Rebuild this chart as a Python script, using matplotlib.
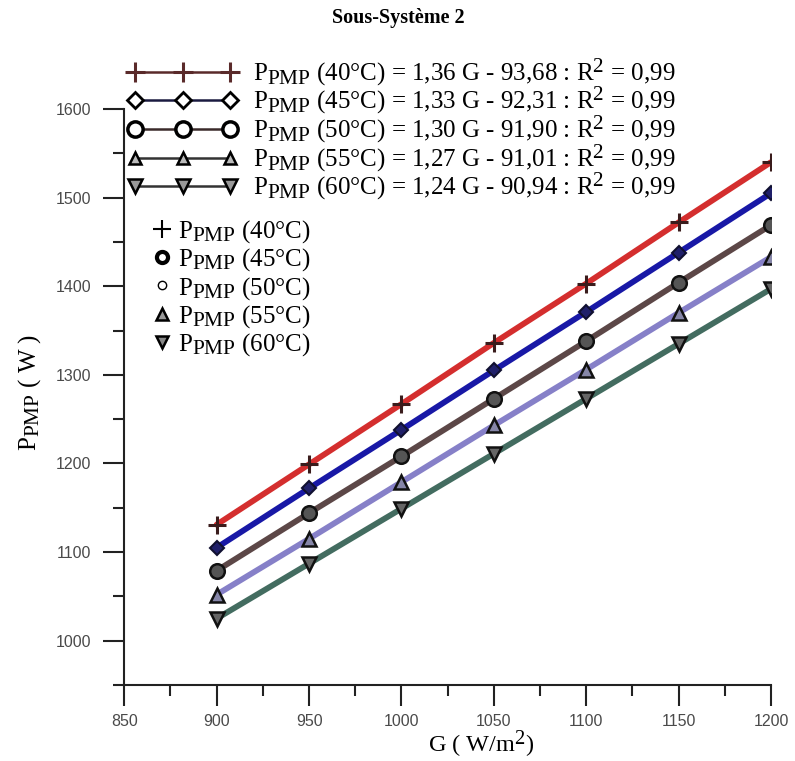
import matplotlib
matplotlib.use("Agg")
import matplotlib.pyplot as plt
from matplotlib.lines import Line2D
import matplotlib._mathtext as _mt

# larger sub/superscripts, as in the reference
_mt.SHRINK_FACTOR = 0.85

plt.rcParams['font.family'] = ['Liberation Serif', 'DejaVu Serif']
plt.rcParams['mathtext.fontset'] = 'custom'
plt.rcParams['mathtext.rm'] = 'Liberation Serif'
plt.rcParams['mathtext.it'] = 'Liberation Serif:italic'
plt.rcParams['mathtext.bf'] = 'Liberation Serif:bold'

# ---- data ----
G = [900, 950, 1000, 1050, 1100, 1150, 1200]
P40 = [1131, 1199, 1267, 1336, 1403, 1472, 1540]
P45 = [1105, 1172, 1238, 1305, 1371, 1438, 1505]
P50 = [1079, 1144, 1208, 1273, 1338, 1404, 1469]
P55 = [1052, 1115, 1179, 1243, 1306, 1370, 1433]
P60 = [1025, 1087, 1149, 1211, 1273, 1335, 1397]
temps = ['40', '45', '50', '55', '60']
fit_labels = [
    '1,36 G - 93,68', '1,33 G - 92,31', '1,30 G - 91,90',
    '1,27 G - 91,01', '1,24 G - 90,94']
r2 = ['0,99', '0,99', '0,99', '0,99', '0,99']
xticks = [850, 900, 950, 1000, 1050, 1100, 1150, 1200]
yticks = [1000, 1100, 1200, 1300, 1400, 1500, 1600]

series = [P40, P45, P50, P55, P60]
line_colors = ['#d42e2e', '#1818a6', '#5c4747', '#8680c8', '#436c60']
mk_style = [
    dict(marker='+', ms=13, mew=2.2, color='#3a1c1c'),
    dict(marker='D', ms=7, mfc='#20206a', mec='#101030', mew=1.5),
    dict(marker='o', ms=10.5, mfc='#555555', mec='#111111', mew=1.8),
    dict(marker='^', ms=10, mfc='#8686a8', mec='#111111', mew=1.8),
    dict(marker='v', ms=10, mfc='#666666', mec='#111111', mew=1.8),
]

W, H = 795, 761
fig = plt.figure(figsize=(W / 100, H / 100), dpi=100)
ax = fig.add_axes([124.3 / W, (H - 685) / H, (771 - 124.3) / W, (685 - 109) / H])

for s, c, m in zip(series, line_colors, mk_style):
    ax.plot(G, s, color=c, lw=4.2, solid_capstyle='round', zorder=2)
    ax.plot(G, s, linestyle='none', zorder=3, **m)

ax.set_xlim(850, 1200)
ax.set_ylim(950, 1600)
ax.set_xticks(xticks)
ax.set_yticks(yticks)
ax.set_xticks([875, 925, 975, 1025, 1075, 1125, 1175], minor=True)
ax.set_yticks([950, 1050, 1150, 1250, 1350, 1450, 1550], minor=True)
for sp in ['top', 'right']:
    ax.spines[sp].set_visible(False)
for sp in ['left', 'bottom']:
    ax.spines[sp].set_linewidth(1.5)
    ax.spines[sp].set_color('#222222')
ax.tick_params(which='major', direction='out', length=15, width=1.5, color='#222222',
               labelsize=11.5, labelcolor='#4a4a4a')
ax.tick_params(axis='x', which='major', pad=6)
ax.tick_params(axis='y', which='major', pad=9)
ax.tick_params(which='minor', direction='out', length=8, width=1.5, color='#222222')
for lab in ax.get_xticklabels() + ax.get_yticklabels():
    lab.set_family(['Liberation Sans', 'DejaVu Sans'])

FS = 18
# legend 1 (fits)
h1_style = [
    dict(color='#5a2a2a', marker='+', ms=14, mew=2.2),
    dict(color='#1a1a40', marker='D', ms=8, mfc='white', mec='black', mew=2),
    dict(color='#3a2a2a', marker='o', ms=11, mfc='white', mec='black', mew=2.5),
    dict(color='#333333', marker='^', ms=9, mfc='#bbbbbb', mec='black', mew=1.8),
    dict(color='#333333', marker='v', ms=10, mfc='#999999', mec='black', mew=1.8),
]
h1 = [Line2D([], [], lw=1.8, **st) for st in h1_style]
l1 = [r'$\mathrm{P_{PMP}}$ (' + t + '°C) = ' + f + ' : R$^2$ = ' + r
      for t, f, r in zip(temps, fit_labels, r2)]
leg1 = ax.legend(h1, l1, loc='upper left', bbox_to_anchor=(127.5 / W, 1 - 56 / H),
                 bbox_transform=fig.transFigure, frameon=False, fontsize=FS,
                 numpoints=3, handlelength=4.4, handletextpad=0.62, borderpad=0,
                 borderaxespad=0, labelspacing=-0.12)
ax.add_artist(leg1)

# legend 2 (data points)
h2_style = [
    dict(marker='+', ms=13, mew=1.5, color='black'),
    dict(marker='o', ms=8, mfc='white', mec='black', mew=3),
    dict(marker='o', ms=6, mfc='white', mec='black', mew=1),
    dict(marker='^', ms=9, mfc='#999999', mec='black', mew=1.8),
    dict(marker='v', ms=9, mfc='#888888', mec='black', mew=1.8),
]
h2 = [Line2D([], [], linestyle='none', **st) for st in h2_style]
l2 = [r'$\mathrm{P_{PMP}}$ (' + t + '°C)' for t in temps]
leg2 = ax.legend(h2, l2, loc='upper left', bbox_to_anchor=(154.5 / W, 1 - 218 / H),
                 bbox_transform=fig.transFigure, frameon=False, fontsize=FS,
                 numpoints=1, handlelength=0.6, handletextpad=0.34, borderpad=0,
                 borderaxespad=0, labelspacing=0.06)

fig.text(398 / W, 1 - 18 / H, 'Sous-Système 2', fontsize=14.5, fontweight='bold',
         ha='center', va='center')
fig.text(30 / W, 1 - 392 / H, r'$\mathrm{P_{PMP}}$ ( W )', fontsize=18,
         rotation=90, ha='center', va='center')
fig.text(481 / W, 1 - 744 / H, r'G ( W/m$^2$)', fontsize=17.5, ha='center', va='center')

fig.savefig('out.png', dpi=100)
